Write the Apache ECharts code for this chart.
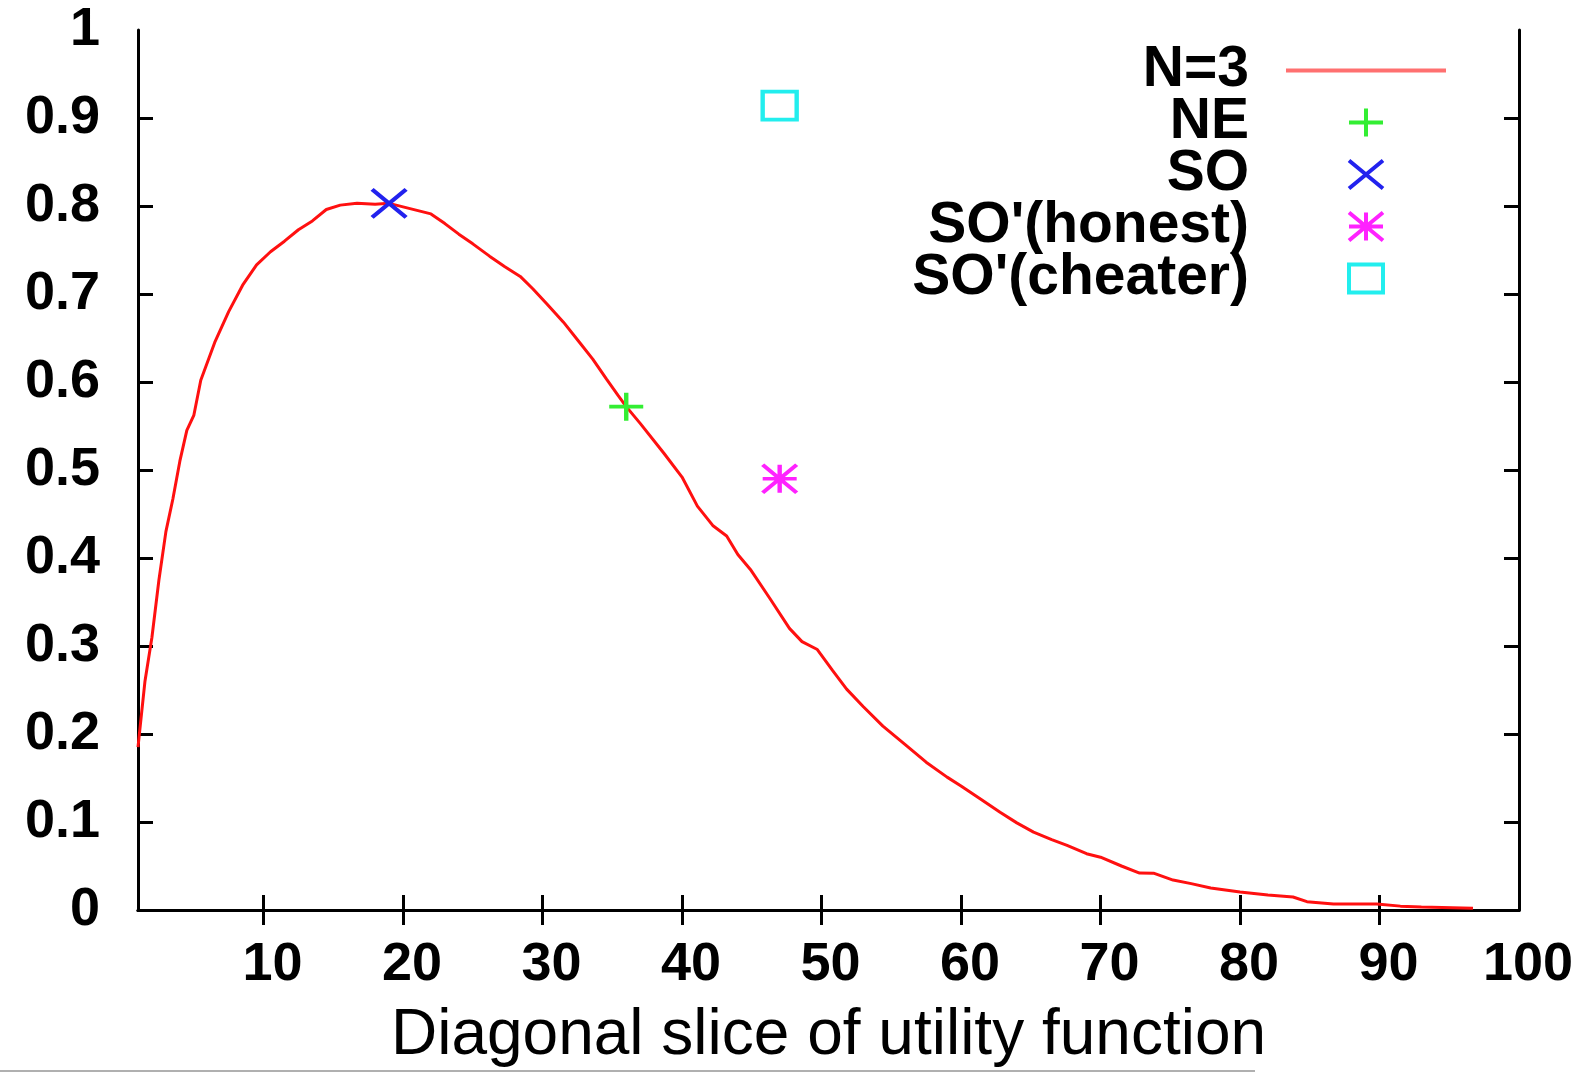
<!DOCTYPE html>
<html>
<head>
<meta charset="utf-8">
<title>Diagonal slice of utility function</title>
<script src="https://cdn.jsdelivr.net/npm/echarts@6/dist/echarts.min.js"></script>
<style>
  html, body { margin: 0; padding: 0; background: #ffffff; }
  #chart { width: 1587px; height: 1073px; }
</style>
</head>
<body>
<div id="chart"></div>
<script>
// Simulated curve for N=3 along the diagonal slice
const curveX = [1, 1.5, 2, 2.5, 3, 3.5, 4, 4.5, 5, 5.5, 6.5, 7.5, 8.5, 9.5, 10.5, 11.5, 12.5, 13.5, 14.5, 15.5,
  16.7, 18, 19, 20, 21, 22, 23, 24, 25, 26.2, 27.3, 28.4, 29.3, 30.3, 31.5, 32.7, 33.6, 34.6, 35.4, 36,
  37, 38.7, 40, 41.1, 42.2, 43.2, 44, 44.9, 46.3, 47.7, 48.6, 49.7, 50.8, 51.8, 53, 54.4, 56, 57.5, 59, 60,
  61.5, 62.8, 64, 65.2, 66.5, 67.6, 69, 70, 71.5, 72.8, 73.8, 75.2, 76.5, 77.9, 80, 82, 83.8, 84.8, 86.7, 89.8,
  91.5, 93, 96.7];
const curveY = [0.185, 0.26, 0.31, 0.375, 0.43, 0.467, 0.51, 0.545, 0.562, 0.602, 0.645, 0.68, 0.71, 0.733, 0.748, 0.76, 0.773, 0.783, 0.796, 0.801,
  0.803, 0.802, 0.803, 0.799, 0.795, 0.791, 0.78, 0.768, 0.757, 0.743, 0.731, 0.72, 0.706, 0.689, 0.668, 0.644, 0.626, 0.603, 0.585, 0.572,
  0.553, 0.519, 0.492, 0.459, 0.437, 0.425, 0.404, 0.387, 0.354, 0.32, 0.305, 0.296, 0.272, 0.251, 0.231, 0.209, 0.188, 0.168, 0.151, 0.141,
  0.125, 0.111, 0.099, 0.0885, 0.08, 0.0734, 0.064, 0.06, 0.05, 0.042, 0.0419, 0.034, 0.03, 0.025, 0.0204, 0.017, 0.0148, 0.0095, 0.0067, 0.0067,
  0.0044, 0.0035, 0.002];

// Single-point outcomes
const pointNames = ['NE', 'SO', "SO'(honest)", "SO'(cheater)"];
const pointX = [36, 19, 47, 47];
const pointY = [0.572, 0.803, 0.49, 0.914];

const lineName = 'N=3';
const xTickValues = [10, 20, 30, 40, 50, 60, 70, 80, 90, 100];
const yTickValues = [0, 0.1, 0.2, 0.3, 0.4, 0.5, 0.6, 0.7, 0.8, 0.9, 1];

// Open marker outlines (34 x 28 box)
const markerPaths = [
  'path://M0,14L34,14M17,0L17,28',
  'path://M0,0L34,28M34,0L0,28',
  'path://M0,14L34,14M17,0L17,28M0,0L34,28M34,0L0,28',
  'path://M0,0L34,0L34,28L0,28Z'
];
const markerColors = ['#33ee33', '#2222ee', '#ff22ff', '#22eeee'];
const lineColor = '#ff1010';

const tickFont = { fontFamily: 'Liberation Sans', fontWeight: 'bold', fontSize: 54, color: '#000' };
const frameLine = { show: true, lineStyle: { color: '#000', width: 3 } };
const innerTicks = { show: true, inside: true, length: 15, lineStyle: { color: '#000', width: 3 } };

const curveData = curveX.map((x, i) => [x, curveY[i]]);

const pointSeries = pointNames.map((name, i) => ({
  name: name,
  type: 'scatter',
  xAxisIndex: 0,
  yAxisIndex: 0,
  symbol: markerPaths[i],
  symbolSize: [34, 28],
  itemStyle: { color: 'transparent', borderColor: markerColors[i], borderWidth: 4, opacity: 1 },
  data: [[pointX[i], pointY[i]]],
  z: 5
}));

const legendData = [
  { name: lineName, icon: 'path://M0,0L160,0L160,4L0,4Z', itemStyle: { color: '#ff7070', borderWidth: 0 } }
].concat(pointNames.map((name, i) => ({
  name: name,
  icon: markerPaths[i],
  itemStyle: { color: 'transparent', borderColor: markerColors[i], borderWidth: 4 }
})));

const chart = echarts.init(document.getElementById('chart'), null, { renderer: 'canvas' });
chart.setOption({
  animation: false,
  backgroundColor: '#ffffff',
  grid: { left: 138, right: 68, top: 30, bottom: 161, containLabel: false },
  legend: {
    orient: 'vertical',
    align: 'right',
    right: 136,
    top: 37,
    itemWidth: 160,
    itemHeight: 28,
    itemGap: -5,
    selectedMode: false,
    data: legendData,
    textStyle: {
      fontFamily: 'Liberation Sans', fontWeight: 'bold', fontSize: 57, color: '#000',
      padding: [0, 32, 0, 0]
    }
  },
  xAxis: [
    {
      type: 'value', position: 'bottom', min: 1, max: 100,
      name: 'Diagonal slice of utility function',
      nameLocation: 'middle', nameGap: 94,
      nameTextStyle: { fontFamily: 'Liberation Sans', fontSize: 64, color: '#000' },
      axisLine: frameLine,
      axisTick: Object.assign({ customValues: xTickValues.slice(0, 9) }, innerTicks),
      axisLabel: Object.assign({ customValues: xTickValues, margin: 28, padding: [0, 0, 0, 18] }, tickFont),
      splitLine: { show: false }
    },
    {
      type: 'value', position: 'top', min: 1, max: 100,
      axisLine: frameLine,
      axisTick: Object.assign({ customValues: xTickValues.slice(0, 9) }, innerTicks),
      axisLabel: { show: false },
      splitLine: { show: false }
    }
  ],
  yAxis: [
    {
      type: 'value', position: 'left', min: 0, max: 1, interval: 0.1,
      axisLine: frameLine,
      axisTick: Object.assign({ customValues: yTickValues.slice(1, 10) }, innerTicks),
      axisLabel: Object.assign({
        customValues: yTickValues, margin: 38,
        formatter: v => String(Math.round(v * 10) / 10)
      }, tickFont),
      splitLine: { show: false }
    },
    {
      type: 'value', position: 'right', min: 0, max: 1, interval: 0.1,
      axisLine: frameLine,
      axisTick: Object.assign({ customValues: yTickValues.slice(1, 10) }, innerTicks),
      axisLabel: { show: false },
      splitLine: { show: false }
    }
  ],
  series: [
    {
      name: lineName,
      type: 'line',
      xAxisIndex: 0,
      yAxisIndex: 0,
      showSymbol: false,
      symbol: 'none',
      lineStyle: { color: lineColor, width: 3 },
      itemStyle: { color: lineColor },
      data: curveData,
      z: 3
    }
  ].concat(pointSeries),
  graphic: [
    {
      type: 'line', silent: true,
      shape: { x1: 0, y1: 1071, x2: 1255, y2: 1071 },
      style: { stroke: '#b0b0b0', lineWidth: 2 }
    }
  ]
});
</script>
</body>
</html>
